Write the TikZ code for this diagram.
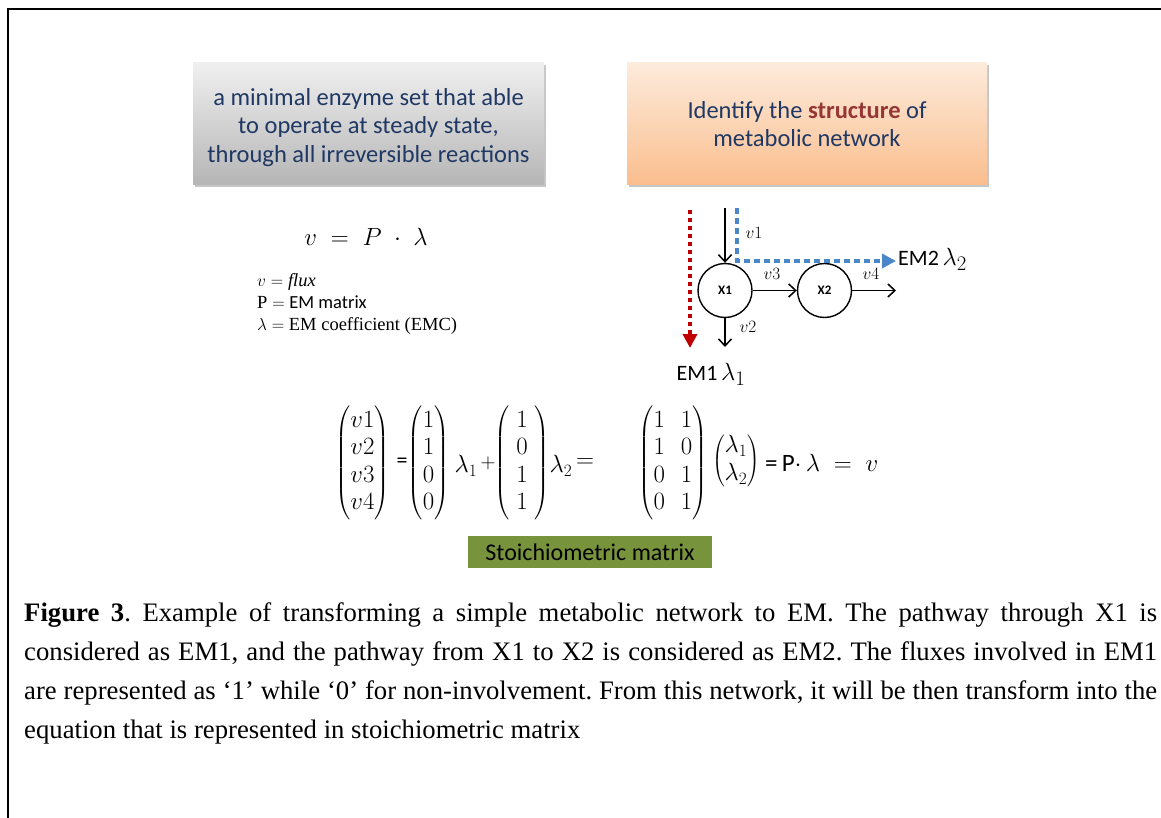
\documentclass[tikz,border=0pt]{standalone}
\usepackage{amsmath}
\usepackage{fontspec}
\setmainfont{Liberation Serif}
\newfontfamily\calibri{Carlito}
\usetikzlibrary{arrows.meta,shadows}
\hyphenpenalty=10000
\exhyphenpenalty=10000
\frenchspacing
\definecolor{txtblue}{HTML}{1F3864}
\definecolor{strred}{HTML}{953735}
\definecolor{emred}{HTML}{C00000}
\definecolor{emblue}{HTML}{4A86C8}
\definecolor{stoich}{HTML}{77933C}
% vector / matrix with slim parentheses
\newcommand{\pmat}[3]{{\fontsize{#1}{#1}\selectfont$\left(\vcenter{\hbox{\fontsize{#2}{27.5}\selectfont$\begin{matrix}#3\end{matrix}$}}\right)$}}
\begin{document}
\begin{tikzpicture}[x=1pt,y=-1pt,
  infobox/.style={draw=none, minimum width=355pt, minimum height=122pt, align=center,
    text=txtblue, font=\calibri\fontsize{24.5}{28.5}\selectfont,
    drop shadow={shadow xshift=1.5pt, shadow yshift=-2.5pt, opacity=0.45}},
  circ/.style={circle, draw, line width=1.4pt, minimum size=54pt, inner sep=0pt,
    font=\calibri\bfseries\fontsize{13}{15}\selectfont},
  flow/.style={line width=1.5pt, -{Straight Barb[length=7pt,width=13pt,line width=1.5pt]}},
  vlab/.style={font=\fontsize{17}{19}\selectfont, inner sep=1pt},
  emlab/.style={font=\calibri\fontsize{22}{24}\selectfont, inner sep=0pt},
  redpath/.style={draw=emred, line width=4.5pt, dash pattern=on 4pt off 4pt,
    -{Triangle[length=14pt,width=14pt,fill=emred]}},
  bluepath/.style={draw=emblue, line width=4.5pt, dash pattern=on 6pt off 4pt,
    -{Triangle[length=14pt,width=14pt,fill=emblue]}},
  eqpart/.style={inner sep=0pt},
]
\useasboundingbox (0,0) rectangle (1161,818);
\draw[line width=2pt] (8,818) -- (8,9) -- (1161,9);

% top boxes
\node[infobox, minimum width=351pt, top color=gray!12, bottom color=gray!58] (emdef) at (368.5,124)
  {\rule{0pt}{24pt}a minimal enzyme set that able\\ to operate at steady state,\\ through all irreversible reactions};
\node[infobox, minimum width=360pt, top color={rgb,255:red,253;green,235;blue,220}, bottom color={rgb,255:red,250;green,190;blue,142}] (ident) at (807,124)
  {Identify the \textbf{\textcolor{strred}{structure}} of\\ metabolic network};

% formula
\node[font=\fontsize{35}{40}\selectfont] (formula) at (366,237) {$v\;=\;P\;\cdot\;\lambda$};
\node[anchor=north west, align=left, inner sep=0pt, font=\fontsize{18.5}{22}\selectfont] (legend) at (257,273)
  {$v = \mathit{flux}$\\ $\mathrm{P} =$ {\calibri EM matrix}\\ $\lambda =$ EM coefficient (EMC)};

% network
\node[circ] (x1) at (725,290.5) {X1};
\node[circ] (x2) at (824.5,290.5) {X2};
\coordinate (v1s) at (725,208);
\coordinate (v2e) at (725,347);
\coordinate (v4e) at (896,290.5);
\draw[flow] (v1s) -- (x1);
\draw[flow] (x1) -- (v2e);
\draw[flow] (x1) -- (x2);
\draw[flow] (x2) -- (v4e);
\node[vlab] (lv1) at (754,233) {$v1$};
\node[vlab] (lv2) at (748,327) {$v2$};
\node[vlab] (lv3) at (772,274) {$v3$};
\node[vlab] (lv4) at (871,274) {$v4$};

\node[emlab, anchor=west] (em2) at (898,259) {EM2\,{\fontsize{30}{30}\selectfont$\lambda_2$}};
\node[emlab] (em1) at (711,374) {EM1\,{\fontsize{30}{30}\selectfont$\lambda_1$}};
\coordinate (r1) at (690,210);
\coordinate (r2) at (690,348);
\draw[redpath] (r1) -- (r2);
\coordinate (b1) at (737,208);
\draw[bluepath] (b1) |- ([xshift=-2pt,yshift=-2pt]em2.west);

% equation
\begin{scope}[every node/.style={eqpart}]
\node (vecv) at (362.5,463) {\pmat{17}{29}{v1\\ v2\\ v3\\ v4}};
\node[font=\calibri\fontsize{22}{24}\selectfont] (eqa) at (402,463) {=};
\node (vecA) at (428.5,463) {\pmat{17}{29}{1\\1\\0\\0}};
\node[font=\fontsize{25}{27}\selectfont] (lam1) at (466,466) {$\lambda_1$};
\node[font=\fontsize{22}{24}\selectfont] (plus) at (488,463) {$+$};
\node (vecB) at (522,463) {\pmat{17}{29}{\;1\;\\0\\1\\1}};
\node[font=\fontsize{25}{27}\selectfont] (lam2) at (561,466) {$\lambda_2$};
\node[font=\fontsize{25}{27}\selectfont] (eqb) at (585,463) {$=$};
\node (matP) at (673,463) {{\setlength\arraycolsep{8pt}\pmat{17}{29}{1&1\\1&0\\0&1\\0&1}}};
\node (veclam) at (736,461) {{\fontsize{15}{15}\selectfont$\left(\vcenter{\hbox{\fontsize{24}{28}\selectfont$\begin{matrix}\lambda_1\\ \lambda_2\end{matrix}$}}\right)$}};
\node[anchor=west, font=\fontsize{25}{27}\selectfont] (eqend) at (765,463) {{\calibri =\,P}$\cdot\,\lambda \;=\; v$};
\end{scope}

\node[fill=stoich, minimum width=244pt, minimum height=32pt, inner sep=0pt,
  font=\calibri\fontsize{24}{26}\selectfont] (stm) at (590,552) {Stoichiometric matrix};

% caption
\node[anchor=north west, inner sep=0pt, text width=1133pt, align=justify,
  font=\fontsize{26.7}{39.2}\selectfont] (cap) at (24,602)
 {\textbf{Figure 3}. Example of transforming a simple metabolic network to EM. The pathway through X1 is considered as EM1, and the pathway from X1 to X2 is considered as EM2. The fluxes involved in EM1 are represented as ‘1’ while ‘0’ for non-involvement. From this network, it will be then transform into the equation that is represented in stoichiometric matrix};
\end{tikzpicture}
\end{document}
